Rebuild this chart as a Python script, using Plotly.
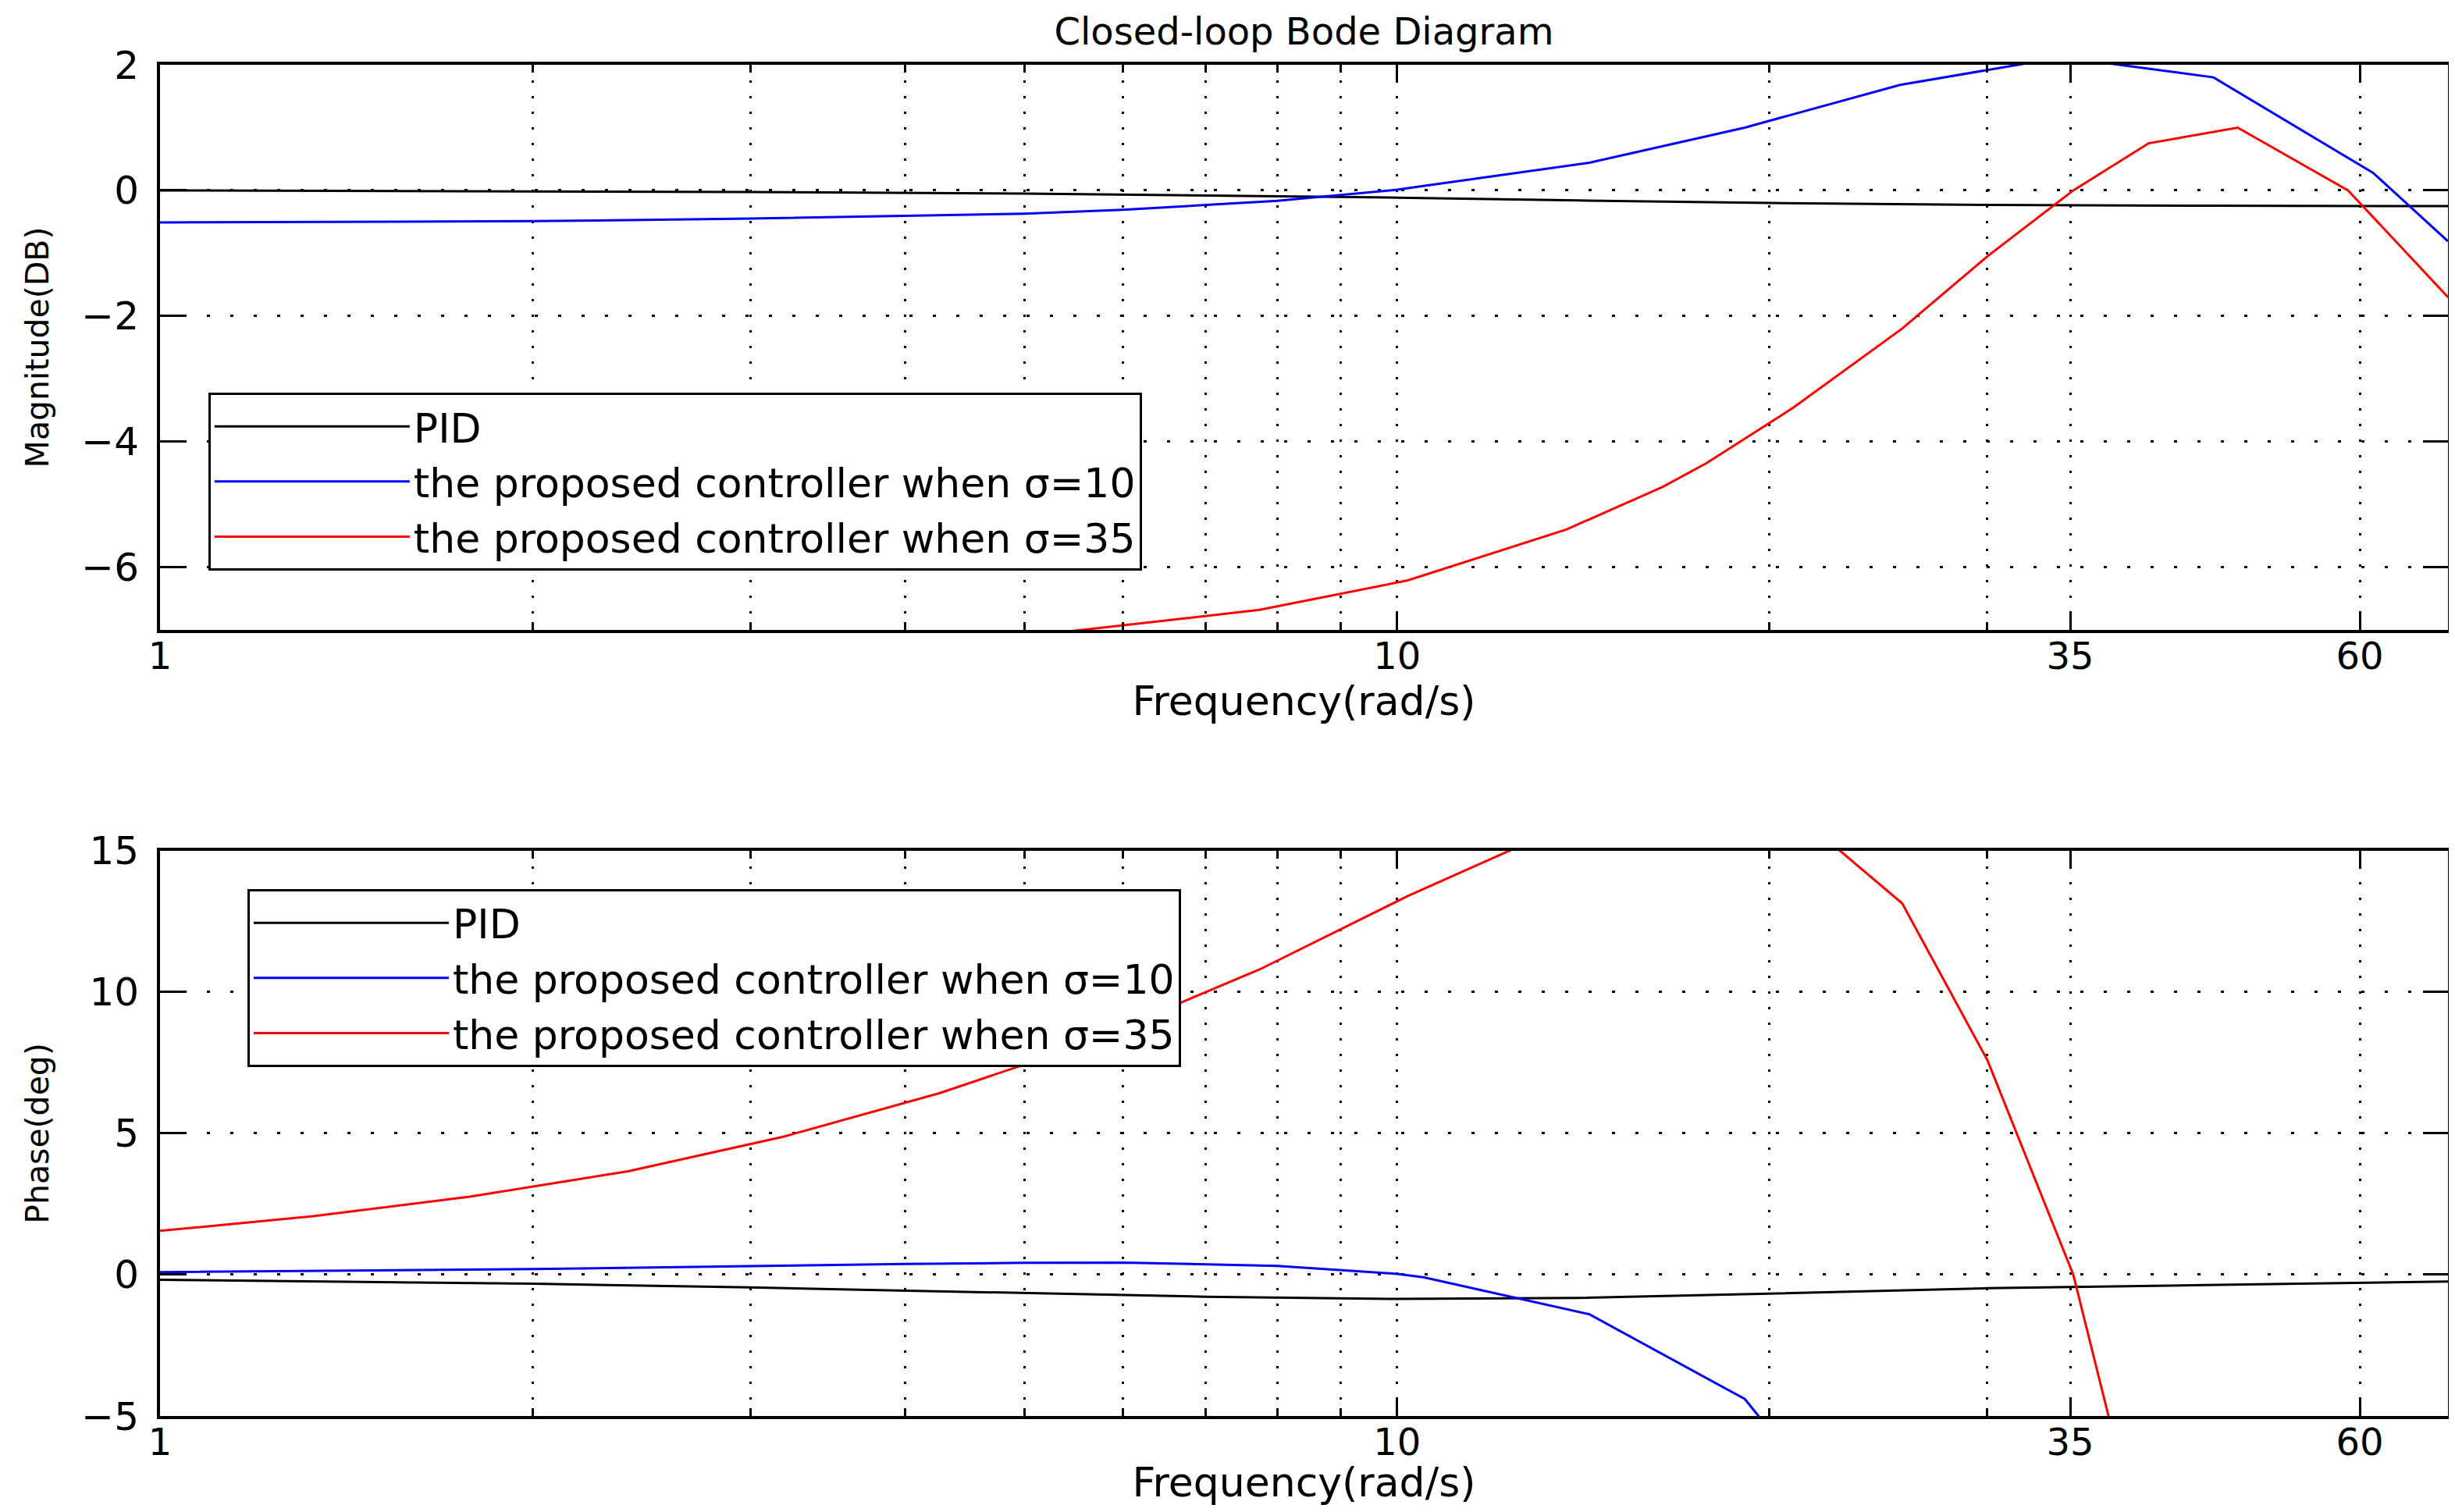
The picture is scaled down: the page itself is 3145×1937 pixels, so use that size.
import math
import plotly.graph_objects as go

# ---------------- data ----------------
freq_pid = [1, 2, 3, 5, 7, 10, 14, 20, 30, 45, 70.7]
mag_pid = [0.0, -0.01, -0.025, -0.05, -0.08, -0.115, -0.16, -0.20, -0.23, -0.245, -0.25]
phase_pid = [-0.18, -0.32, -0.45, -0.66, -0.78, -0.86, -0.82, -0.67, -0.48, -0.37, -0.24]

freq_s10 = [1, 2, 3, 4, 5, 6, 8, 10, 10.5, 14.3, 19.1, 25.5, 34.5, 45.7, 61.5, 70.7]
mag_s10 = [-0.51, -0.49, -0.45, -0.41, -0.37, -0.31, -0.165, 0.01, 0.07, 0.44, 1.0, 1.68, 2.12, 1.80, 0.28, -0.81]
phase_s10 = [0.09, 0.2, 0.3, 0.38, 0.42, 0.43, 0.31, 0.03, -0.09, -1.4, -4.4, -11.2, None, None, None, None]

freq_s35 = [1, 1.33, 1.78, 2.39, 3.19, 4.27, 5.44, 7.74, 10.2, 13.7, 16.4, 17.8, 20.9, 25.6, 30.0, 35.2, 40.5, 47.8, 58.7, 70.7]
mag_s35 = [None, None, None, None, None, None, -7.02, -6.68, -6.21, -5.40, -4.72, -4.34, -3.46, -2.20, -1.05, 0.0, 0.75, 1.0, 0.0, -1.70]
phase_s35 = [1.55, 2.07, 2.76, 3.66, 4.88, 6.43, 7.98, 10.8, 13.4, 15.9, 16.7, 16.8, 16.4, 13.14, 7.59, 0.0, -10.7, None, None, None]

series_names = ["PID", "the proposed controller when σ=10", "the proposed controller when σ=35"]
series_colors = ["#000000", "#0000ff", "#ff0000"]

x_tickvals = [1, 10, 35, 60]
x_ticktext = ["1", "10", "35", "60"]
x_minorvals = [2, 3, 4, 5, 6, 7, 8, 9, 20, 30]
x_max = 70.7
mag_ticks = [-6, -4, -2, 0, 2]
phase_ticks = [-5, 0, 5, 10, 15]

# ---------------- figure ----------------
# the page body has an 8px margin, so the figure is sized to fit inside it
W, H = 3137, 1921
FONT = "DejaVu Sans"

fig = go.Figure()
freqs = [freq_pid, freq_s10, freq_s35]
mags = [mag_pid, mag_s10, mag_s35]
phases = [phase_pid, phase_s10, phase_s35]
for name, col, f, m, p in zip(series_names, series_colors, freqs, mags, phases):
    fig.add_trace(go.Scatter(x=f, y=m, mode="lines", name=name,
                             line=dict(color=col, width=3),
                             xaxis="x", yaxis="y", legend="legend"))
    fig.add_trace(go.Scatter(x=f, y=p, mode="lines", name=name,
                             line=dict(color=col, width=3),
                             xaxis="x2", yaxis="y2", legend="legend2"))

def xaxis_style(anchor):
    return dict(
        anchor=anchor, domain=[0, 1], type="log",
        range=[0, math.log10(x_max)],
        tickmode="array", tickvals=x_tickvals, ticktext=x_ticktext,
        ticks="inside", ticklen=22, tickwidth=3, tickcolor="black",
        showline=True, linewidth=4, linecolor="black", mirror="ticks",
        showgrid=True, gridcolor="black", gridwidth=3, griddash="3px,17px",
        minor=dict(tickmode="array", tickvals=x_minorvals, ticks="inside",
                   ticklen=10, tickwidth=3, tickcolor="black",
                   showgrid=True, gridcolor="black", gridwidth=3,
                   griddash="3px,17px"),
        tickfont=dict(family=FONT, size=48, color="black"),
        ticklabelstandoff=-12,
        title=dict(text="Frequency(rad/s)", font=dict(family=FONT, size=52, color="black"),
                   standoff=6),
        zeroline=False,
    )

def yaxis_style(anchor, domain, rng, vals, title):
    return dict(
        anchor=anchor, domain=domain, range=rng,
        tickmode="array", tickvals=vals,
        ticks="inside", ticklen=32, tickwidth=3, tickcolor="black",
        showline=True, linewidth=4, linecolor="black", mirror="ticks",
        showgrid=True, gridcolor="black", gridwidth=3, griddash="4px,26px",
        zeroline=False,
        tickfont=dict(family=FONT, size=50, color="black"),
        ticklabelstandoff=13,
        title=dict(text=title, font=dict(family=FONT, size=41, color="black"),
                   standoff=30),
    )

legend_common = dict(
    xanchor="left", yanchor="top", bgcolor="white",
    bordercolor="black", borderwidth=3,
    font=dict(family=FONT, size=52, color="black"),
    itemwidth=250, tracegroupgap=0,
)

fig.update_layout(
    width=W, height=H,
    margin=dict(l=197, r=5, t=75, b=115),
    paper_bgcolor="white", plot_bgcolor="white",
    font=dict(family=FONT, color="black"),
    showlegend=True,
    title=dict(text="Closed-loop Bode Diagram", x=0.5, xref="paper", xanchor="center",
               y=1 - 32 / H, yref="container", yanchor="middle",
               font=dict(family=FONT, size=48, color="black")),
    xaxis=xaxis_style("y"),
    xaxis2=xaxis_style("y2"),
    yaxis=yaxis_style("x", [0.5817, 1.0], [-7, 2], mag_ticks, "Magnitude(DB)"),
    yaxis2=yaxis_style("x2", [0.0, 0.4183], [-5, 15], phase_ticks, "Phase(deg)"),
    legend=dict(x=0.0211, y=0.7574, **legend_common),
    legend2=dict(x=0.0382, y=0.390, **legend_common),
)

fig.write_html("out.html")
